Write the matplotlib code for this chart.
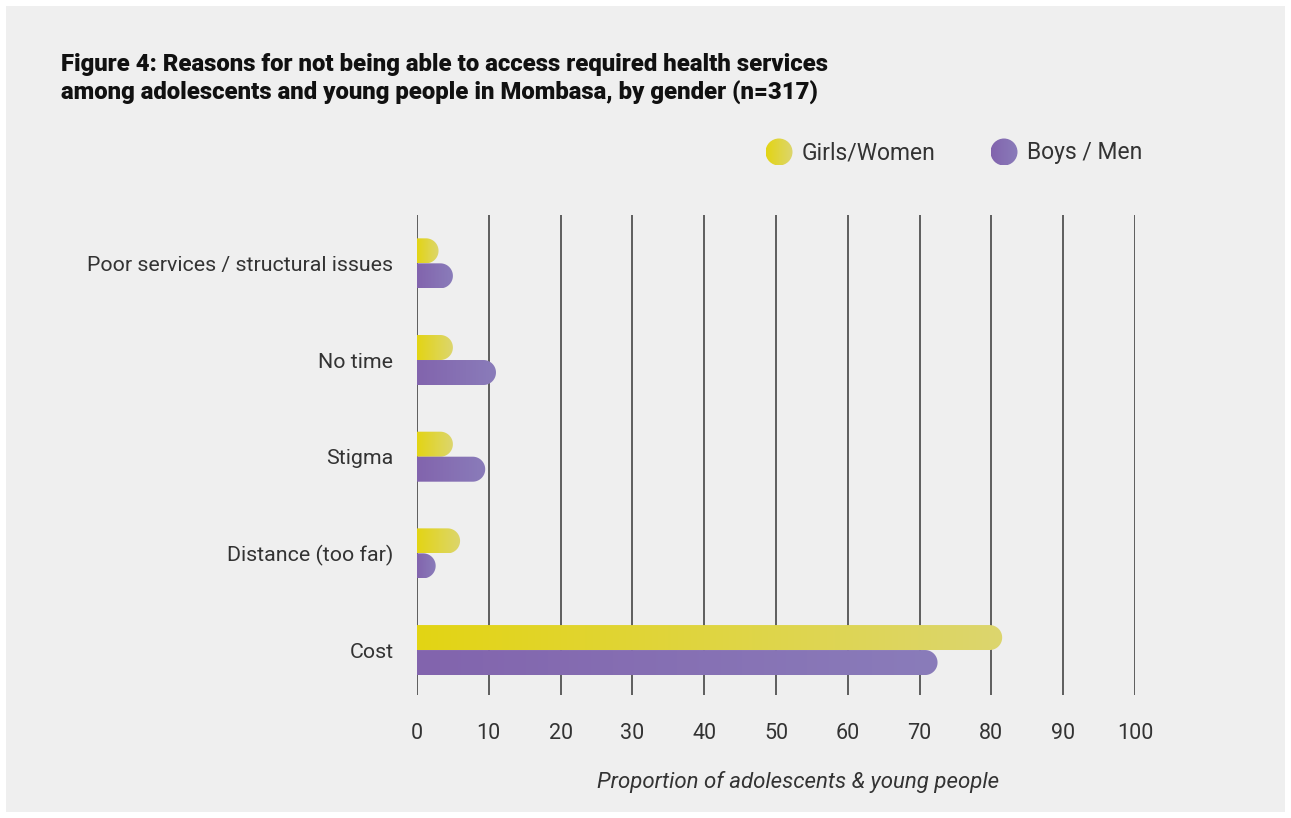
import numpy as np
import matplotlib
matplotlib.use("Agg")
import matplotlib.pyplot as plt
from matplotlib.path import Path
from matplotlib.patches import PathPatch, Rectangle, Circle
from matplotlib.colors import LinearSegmentedColormap

# ---- data -------------------------------------------------------------
categories = ["Cost", "Distance (too far)", "Stigma", "No time",
              "Poor services / structural issues"]
girls = [81.5, 6, 5, 5, 3]
boys = [72.5, 2.6, 9.5, 11, 5]
series_names = ["Girls/Women", "Boys / Men"]
x_ticks = [0, 10, 20, 30, 40, 50, 60, 70, 80, 90, 100]

title = ("Figure 4: Reasons for not being able to access required health services\n"
         "among adolescents and young people in Mombasa, by gender (n=317)")
x_label = "Proportion of adolescents & young people"

# ---- style ------------------------------------------------------------
yellow = ("#e3d414", "#dcd66e")
purple = ("#8264ad", "#8a7cba")
text_col = "#333333"
grid_col = "#5e5e5e"
bg_col = "#efefef"

W, H = 1291, 818
fig = plt.figure(figsize=(W / 100, H / 100), dpi=100)
fig.patch.set_facecolor("white")
fig.patches.append(Rectangle((6 / W, 6 / H), 1 - 12 / W, 1 - 12 / H,
                             transform=fig.transFigure, facecolor=bg_col,
                             edgecolor="none", zorder=-10))

ax_left, ax_right, ax_top, ax_bottom = 417, 1135, 215, 695
ax = fig.add_axes([ax_left / W, 1 - ax_bottom / H,
                   (ax_right - ax_left) / W, (ax_bottom - ax_top) / H])
ax.set_facecolor("none")
ax.set_xlim(0, 100)
ax.set_ylim(-0.465, 4.5)

px_per_x = (ax_right - ax_left) / 100.0
px_per_y = (ax_bottom - ax_top) / (4.5 + 0.465)
bar_px = 25.0
bar_h = bar_px / px_per_y
r_x = (bar_px / 2) / px_per_x


def cmap2(c0, c1):
    return LinearSegmentedColormap.from_list("g", [c0, c1])


def rounded_bar(ax, yc, length, cols):
    y0, y1 = yc - bar_h / 2, yc + bar_h / 2
    t = np.linspace(-np.pi / 2, np.pi / 2, 40)
    ax_x = length - r_x + r_x * np.cos(t)
    ax_y = yc + (bar_h / 2) * np.sin(t)
    verts = [(0, y0)] + list(zip(ax_x, ax_y)) + [(0, y1), (0, y0)]
    codes = [Path.MOVETO] + [Path.LINETO] * (len(verts) - 2) + [Path.CLOSEPOLY]
    patch = PathPatch(Path(verts, codes), facecolor="none", edgecolor="none",
                      transform=ax.transData, zorder=3)
    ax.add_patch(patch)
    grad = np.linspace(0, 1, 256).reshape(1, -1)
    im = ax.imshow(grad, cmap=cmap2(*cols), aspect="auto",
                   extent=[0, length, y0, y1], origin="lower", zorder=3,
                   interpolation="bilinear")
    im.set_clip_path(patch)


for xv in x_ticks:
    ax.axvline(xv, color=grid_col, lw=1.4, zorder=1)

ypos = np.arange(len(categories))
for i, y in enumerate(ypos):
    rounded_bar(ax, y + bar_h / 2, girls[i], yellow)
    rounded_bar(ax, y - bar_h / 2, boys[i], purple)

ax.set_xlim(0, 100)
ax.set_ylim(-0.465, 4.5)

for s in ax.spines.values():
    s.set_visible(False)

ax.set_xticks(x_ticks)
ax.set_xticklabels([str(v) for v in x_ticks], fontsize=15.5,
                   fontfamily="Roboto", fontweight="normal", color=text_col)
ax.set_yticks(ypos)
ax.set_yticklabels(categories, fontsize=15.4, fontfamily="Roboto",
                   color=text_col)
ax.tick_params(axis="x", length=0, pad=20)
ax.tick_params(axis="y", length=0, pad=17)

fig.text(798 / W, 1 - 782 / H, x_label, ha="center", va="center",
         fontsize=16, fontstyle="italic", fontfamily="Roboto",
         fontweight="normal", color=text_col)

fig.text(61 / W, 1 - 53 / H, title, ha="left", va="top", fontsize=17.2,
         fontweight="heavy", fontfamily="Roboto", color="#111111",
         linespacing=1.27)

# legend with gradient dots
leg_ax = fig.add_axes([0, 0, 1, 1])
leg_ax.set_xlim(0, W)
leg_ax.set_ylim(H, 0)
leg_ax.axis("off")
leg_ax.set_facecolor("none")
for cx, name, cols in [(779, series_names[0], yellow),
                       (1004, series_names[1], purple)]:
    cy, r = 152, 13.5
    circ = Circle((cx, cy), r, facecolor="none", edgecolor="none",
                  transform=leg_ax.transData)
    leg_ax.add_patch(circ)
    im = leg_ax.imshow(np.linspace(0, 1, 64).reshape(1, -1), cmap=cmap2(*cols),
                       extent=[cx - r, cx + r, cy + r, cy - r], aspect="auto",
                       interpolation="bilinear")
    im.set_clip_path(circ)
    leg_ax.text(cx + 23, cy + 1, name, ha="left", va="center", fontsize=16.5,
                fontfamily="Roboto", color=text_col)
leg_ax.set_xlim(0, W)
leg_ax.set_ylim(H, 0)

fig.savefig("out.png", dpi=100, facecolor=fig.get_facecolor())
